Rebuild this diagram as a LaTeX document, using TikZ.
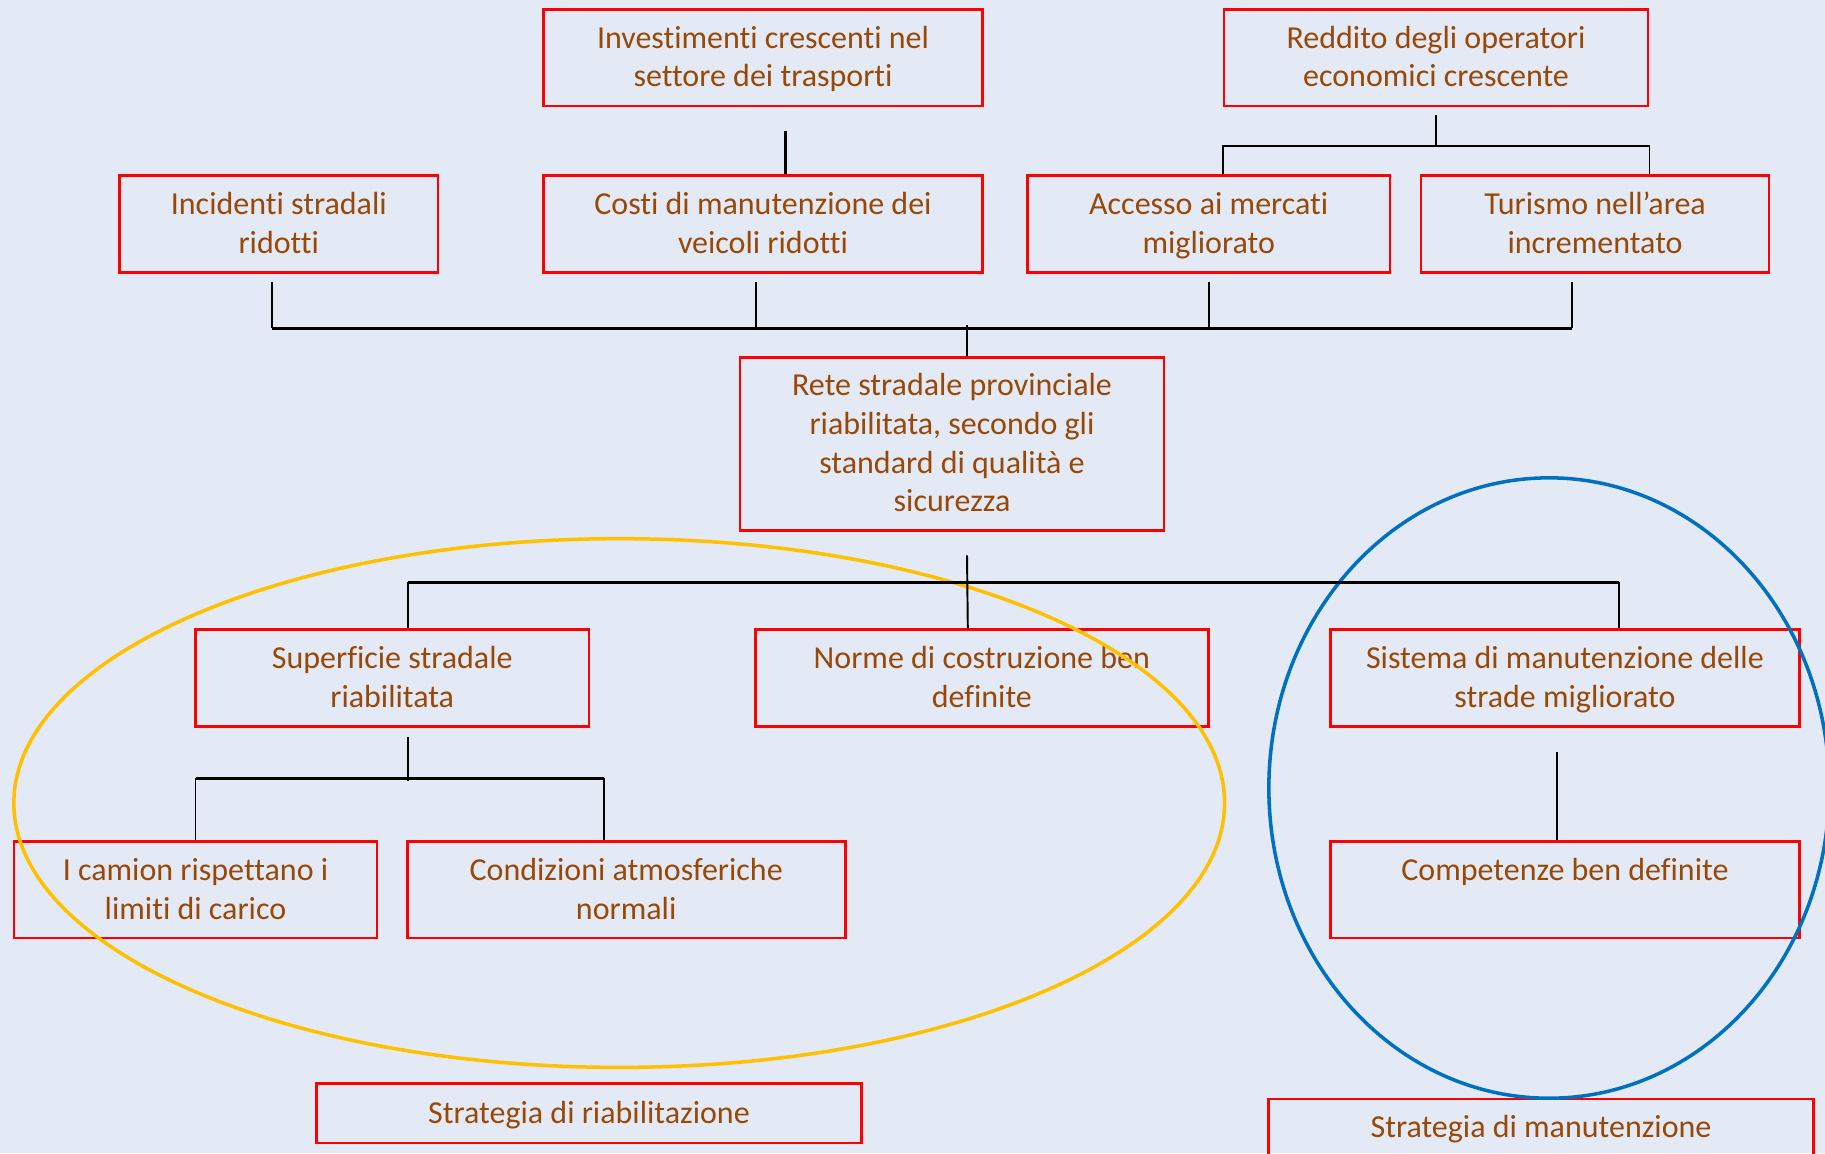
\documentclass[tikz,border=0pt]{standalone}
\usepackage{fontspec}
\setmainfont{Carlito}[Ligatures={NoCommon,NoRequired}]
\usetikzlibrary{calc}

\definecolor{bgblue}{RGB}{227,233,245}
\definecolor{boxred}{RGB}{255,0,0}
\definecolor{txtbrown}{RGB}{152,72,7}
\definecolor{ringyellow}{RGB}{255,192,0}
\definecolor{ringblue}{RGB}{0,112,192}

% fixed height of first line and depth of last line, so that all boxes sit alike
\newcommand{\boxlines}[1]{\rule{0pt}{8pt}#1\rule[-2.4pt]{0pt}{2.4pt}}

\tikzset{
  box/.style={draw=boxred, line width=0.75pt, text=txtbrown, align=center,
    inner sep=0pt, minimum height=0.966cm, font=\fontsize{9.1}{11}\selectfont},
  link/.style={draw=black, line width=0.55pt},
  buslink/.style={draw=black, line width=0.9pt},
  ring/.style={line width=1pt},
}

\begin{document}
\begin{tikzpicture}[x=0.01cm, y=-0.01cm]
  \fill[bgblue] (0,0) rectangle (1825,1153);
  \useasboundingbox (0,0) rectangle (1825,1153);

  % top row
  \node [box, minimum width=4.39cm] (inv) at (763,57.6) {\boxlines{Investimenti crescenti nel\\settore dei trasporti}};
  \node [box, minimum width=4.24cm] (red) at (1436,57.6) {\boxlines{Reddito degli operatori\\economici crescente}};

  % second row
  \node [box, minimum width=3.18cm] (inc) at (278.8,224) {\boxlines{Incidenti stradali\\ridotti}};
  \node [box, minimum width=4.39cm] (costi) at (763,224) {\boxlines{Costi di manutenzione dei\\veicoli ridotti}};
  \node [box, minimum width=3.62cm] (acc) at (1208.7,224) {\boxlines{Accesso ai mercati\\migliorato}};
  \node [box, minimum width=3.48cm] (tur) at (1595,224) {\boxlines{Turismo nell’area\\incrementato}};

  % centre
  \node [box, minimum width=4.24cm, minimum height=1.734cm] (rete) at (952,444) {\boxlines{Rete stradale provinciale\\riabilitata, secondo gli\\standard di qualità e\\sicurezza}};

  % third row
  \node [box, minimum width=3.934cm] (sup) at (392.2,678) {\boxlines{Superficie stradale\\riabilitata}};
  \node [box, minimum width=4.527cm] (norme) at (981.8,678) {\boxlines{Norme di costruzione ben\\definite}};
  \node [box, minimum width=4.69cm] (sist) at (1564.9,678) {\boxlines{Sistema di manutenzione delle\\strade migliorato}};

  % fourth row
  \node [box, minimum width=3.63cm] (camion) at (195.5,889.8) {\boxlines{I camion rispettano i\\limiti di carico}};
  \node [box, minimum width=4.377cm] (cond) at (626.2,889.8) {\boxlines{Condizioni atmosferiche\\normali}};
  \node [box, minimum width=4.69cm] (comp) at (1564.9,889.8) {\boxlines{Competenze ben definite\\\mbox{}}};

  % strategies
  \node [box, minimum width=5.447cm, minimum height=0.594cm] (striab) at (589,1113.3) {\boxlines{Strategia di riabilitazione}};
  \node [box, minimum width=5.447cm] (strman) at (1541,1147.3) {\boxlines{Strategia di manutenzione\\\mbox{}}};

  % rings round the two strategies
  \draw[ring, ringyellow] (619.2,803) ellipse [x radius=6.05cm, y radius=2.642cm];
  \draw[ring, ringblue] (1549,788) ellipse [x radius=2.80cm, y radius=3.10cm];

  % investimenti -> costi
  \draw[buslink] ($(inv.south)+(22.7,24)$) -- ($(costi.north)+(22.7,0)$);

  % reddito -> accesso, turismo
  \coordinate (redbus) at ($(red.south)+(0,38.4)$);
  \draw[link] ($(red.south)+(0,8)$) -- (redbus);
  \draw[link] (acc.north -| red.south west) -- (redbus -| red.south west)
    -- (redbus -| red.south east) -- (tur.north -| red.south east);

  % second row -> rete
  \draw[buslink] ($(inc.south)+(-7,54.6)$) -- ($(tur.south)+(-23,54.6)$);
  \draw[link] ($(inc.south)+(-7,8.6)$) -- ++(0,46);
  \draw[link] ($(costi.south)+(-7,8.6)$) -- ++(0,46);
  \draw[link] ($(acc.south)+(0,8.6)$) -- ++(0,46);
  \draw[link] ($(tur.south)+(-23,8.6)$) -- ++(0,46);
  \draw[link] ($(rete.north)+(15,0)$) -- ++(0,-30.6);

  % rete -> third row
  \draw[buslink] ($(sup.north)+(15.8,-46)$) -- ($(sist.north)+(54,-46)$);
  \draw[link] ($(rete.south)+(15,23.3)$) -- ($(norme.north)+(-14,0)$);
  \draw[link] ($(sup.north)+(15.8,-46)$) -- ++(0,46);
  \draw[link] ($(sist.north)+(54,-46)$) -- ++(0,46);

  % superficie -> camion, condizioni
  \draw[link] ($(sup.south)+(15.8,9.3)$) -- ++(0,44.2);
  \draw[buslink] ($(camion.north)+(0,-61.7)$) -- ($(cond.north)+(-22.2,-61.7)$);
  \draw[link] ($(camion.north)+(0,-61.7)$) -- (camion.north);
  \draw[link] ($(cond.north)+(-22.2,-61.7)$) -- ($(cond.north)+(-22.2,0)$);

  % sistema -> competenze
  \draw[link] ($(sist.south)+(-7.6,24.4)$) -- ($(comp.north)+(-7.6,0)$);
\end{tikzpicture}
\end{document}
